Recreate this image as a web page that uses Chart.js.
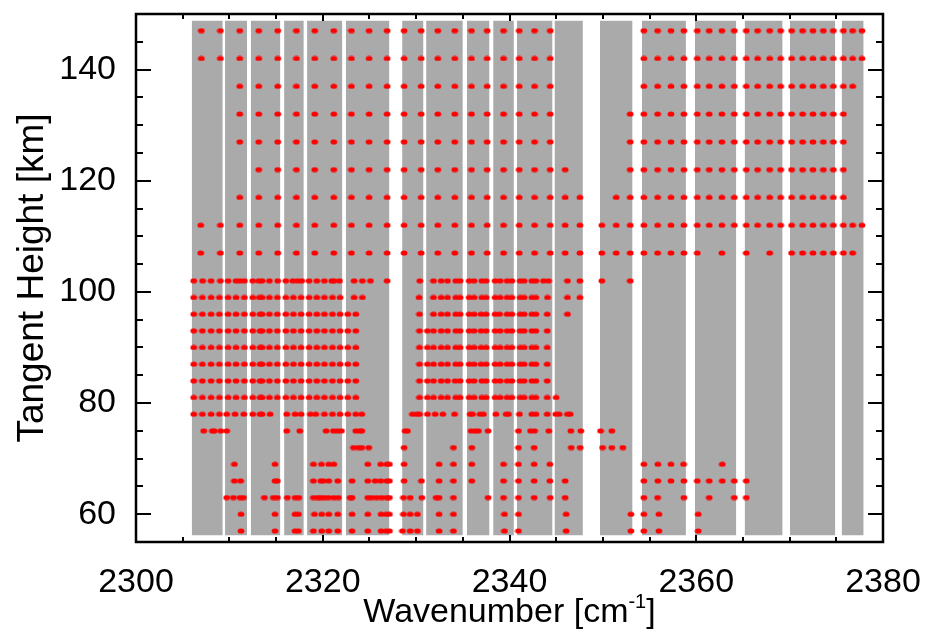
<!DOCTYPE html>
<html>
<head>
<meta charset="utf-8">
<script src="https://cdn.jsdelivr.net/npm/chart.js@4.4.0/dist/chart.umd.min.js"></script>
<style>
body { margin: 0; background: #fff; }
#wrap { width: 927px; height: 635px; }
</style>
</head>
<body>
<div id="wrap"><canvas id="chart" width="927" height="635"></canvas></div>
<script>
var FONT = '"Liberation Sans", Arial, Helvetica, sans-serif';

// axis ranges and tick labels
var xMin = 2300, xMax = 2380;
var yMin = 55, yMax = 150;
var xTicks = [2300, 2320, 2340, 2360, 2380];
var yTicks = [60, 80, 100, 120, 140];

// microwindows [cm-1] and their height range [km]
var bandStart = [2305.97, 2309.54, 2312.29, 2315.86, 2318.32, 2322.47, 2328.50, 2331.07, 2335.43,
                 2338.25, 2340.79, 2344.82, 2349.68, 2354.18, 2359.86, 2365.18, 2370.04, 2375.57];
var bandEnd   = [2309.29, 2311.89, 2315.46, 2317.97, 2322.10, 2327.14, 2330.79, 2335.00, 2337.86,
                 2340.47, 2344.61, 2347.86, 2353.18, 2358.89, 2364.29, 2369.25, 2374.89, 2377.93];
var bandBottom = 56.2, bandTop = 148.8;

// selected line positions [cm-1] for each tangent height
var wn147 = [2307.00, 2309.04, 2311.11, 2313.14, 2315.18, 2317.18, 2319.14, 2321.18, 2323.07, 2324.96, 2326.89, 2328.71,
             2330.54, 2332.32, 2334.14, 2335.93, 2337.61, 2339.36, 2341.04, 2342.68, 2344.36, 2354.39, 2355.86, 2357.29,
             2358.68, 2360.11, 2361.39, 2362.75, 2364.07, 2365.36, 2366.57, 2367.86, 2369.04, 2370.21, 2371.39, 2372.50,
             2373.61, 2374.68, 2375.75, 2376.75, 2377.75];
var wn142 = [2307.00, 2309.04, 2311.11, 2313.14, 2315.18, 2317.18, 2319.14, 2321.18, 2323.07, 2324.96, 2326.89, 2328.71,
             2330.54, 2332.32, 2334.14, 2335.93, 2337.61, 2339.36, 2341.04, 2342.68, 2344.36, 2354.39, 2355.86, 2357.29,
             2358.68, 2360.11, 2361.39, 2362.75, 2364.07, 2365.36, 2366.57, 2367.86, 2369.04, 2370.21, 2371.39, 2372.50,
             2373.61, 2374.68, 2375.75, 2376.75, 2377.75];
var wn137 = [2311.11, 2313.14, 2315.18, 2317.18, 2319.14, 2321.18, 2323.07, 2324.96, 2326.89, 2328.71,
             2330.54, 2332.32, 2334.14, 2335.93, 2337.61, 2339.36, 2341.04, 2342.68, 2344.36, 2354.39, 2355.86, 2357.29,
             2358.68, 2360.11, 2361.39, 2362.75, 2364.07, 2365.36, 2366.57, 2367.86, 2369.04, 2370.21, 2371.39, 2372.50,
             2373.61, 2374.68, 2375.75, 2376.75];
var wn132 = [2311.11, 2313.14, 2315.18, 2317.18, 2319.14, 2321.18, 2323.07, 2324.96, 2326.89, 2328.71,
             2330.54, 2332.32, 2334.14, 2335.93, 2337.61, 2339.36, 2341.04, 2342.68, 2344.36, 2352.93, 2354.39, 2355.86,
             2357.29, 2358.68, 2360.11, 2361.39, 2362.75, 2364.07, 2365.36, 2366.57, 2367.86, 2369.04, 2370.21, 2371.39,
             2372.50, 2373.61, 2374.68, 2375.75];
var wn127 = [2311.11, 2313.14, 2315.18, 2317.18, 2319.14, 2321.18, 2323.07, 2324.96, 2326.89, 2328.71,
             2330.54, 2332.32, 2334.14, 2335.93, 2337.61, 2339.36, 2341.04, 2342.68, 2344.36, 2352.93, 2354.39, 2355.86,
             2357.29, 2358.68, 2360.11, 2361.39, 2362.75, 2364.07, 2365.36, 2366.57, 2367.86, 2369.04, 2370.21, 2371.39,
             2372.50, 2373.61, 2374.68, 2375.75];
var wn122 = [2313.14, 2315.18, 2317.18, 2319.14, 2321.18, 2323.07, 2324.96, 2326.89, 2328.71,
             2330.54, 2332.32, 2334.14, 2335.93, 2337.61, 2339.36, 2341.04, 2342.68, 2344.36, 2345.96, 2352.93, 2354.39,
             2355.86, 2357.29, 2358.68, 2360.11, 2361.39, 2362.75, 2364.07, 2365.36, 2366.57, 2367.86, 2369.04, 2370.21,
             2371.39, 2372.50, 2373.61, 2374.68, 2375.75];
var wn117 = [2311.11, 2313.14, 2315.18, 2317.18, 2319.14, 2321.18, 2323.07, 2324.96, 2326.89, 2328.71,
             2330.54, 2332.32, 2334.14, 2335.93, 2337.61, 2339.36, 2341.04, 2342.68, 2344.36, 2345.96, 2347.54, 2351.43,
             2352.93, 2354.39, 2355.86, 2357.29, 2358.68, 2360.11, 2361.39, 2362.75, 2364.07, 2365.36, 2366.57, 2367.86,
             2369.04, 2370.21, 2371.39, 2372.50, 2373.61, 2374.68, 2375.75];
var wn112 = [2306.93, 2309.04, 2311.11, 2313.14, 2315.18, 2317.18, 2319.14, 2321.18, 2323.07, 2324.96, 2326.89, 2328.71,
             2330.54, 2332.32, 2334.14, 2335.93, 2337.61, 2339.36, 2341.04, 2342.68, 2344.36, 2345.96, 2347.54, 2349.89,
             2351.43, 2352.93, 2354.39, 2355.86, 2357.29, 2358.68, 2360.11, 2361.39, 2362.75, 2364.07, 2365.36, 2366.57,
             2367.86, 2369.04, 2370.21, 2371.39, 2372.50, 2373.61, 2374.68, 2375.75, 2376.75, 2377.75];
var wn107 = [2306.93, 2309.04, 2311.11, 2313.14, 2315.18, 2317.18, 2319.14, 2321.18, 2323.07, 2324.96, 2326.89, 2328.71,
             2330.54, 2332.32, 2334.14, 2335.93, 2337.61, 2339.36, 2341.04, 2342.68, 2344.36, 2345.96, 2347.54, 2349.89,
             2351.43, 2352.93, 2354.39, 2355.86, 2357.29, 2358.68, 2360.11, 2362.75, 2365.36, 2367.86, 2370.21, 2371.39,
             2372.50, 2373.61, 2374.68, 2375.75, 2376.75];
var wn102 = [2306.18, 2307.14, 2308.04, 2309.04, 2309.86, 2310.71, 2311.14, 2311.61, 2312.50, 2313.14, 2313.50, 2314.29,
             2315.18, 2316.04, 2316.79, 2317.29, 2317.75, 2318.54, 2319.36, 2320.18, 2320.96, 2321.21, 2321.79, 2323.36,
             2324.25, 2325.11, 2326.89, 2330.39, 2331.86, 2332.68, 2333.36, 2334.25, 2334.71, 2335.68, 2336.21, 2337.04,
             2337.50, 2338.46, 2339.00, 2339.75, 2340.25, 2341.14, 2341.57, 2342.39, 2342.82, 2343.64, 2344.18, 2346.21,
             2347.54, 2349.89, 2352.93];
var wn99 = [2306.18, 2307.11, 2308.04, 2308.93, 2309.86, 2310.71, 2311.61, 2312.50, 2313.21, 2313.50, 2314.29, 2315.14,
            2316.04, 2316.86, 2317.68, 2318.54, 2319.36, 2320.18, 2321.04, 2321.86, 2323.36, 2324.25, 2330.32, 2331.86,
            2332.68, 2333.36, 2334.25, 2334.71, 2335.68, 2336.21, 2337.04, 2337.50, 2338.46, 2339.00, 2339.75, 2340.25,
            2341.14, 2341.57, 2342.39, 2342.82, 2344.07, 2346.21, 2347.54];
var wn96 = [2306.18, 2307.11, 2308.04, 2308.93, 2309.86, 2310.71, 2311.61, 2312.50, 2313.29, 2313.50, 2314.29, 2315.14,
            2316.04, 2316.86, 2317.68, 2318.54, 2319.36, 2320.18, 2321.04, 2321.86, 2322.68, 2323.54, 2330.36, 2331.86,
            2332.68, 2333.36, 2334.25, 2334.71, 2335.68, 2336.21, 2336.96, 2337.50, 2338.46, 2338.93, 2339.75, 2340.25,
            2341.14, 2341.57, 2342.39, 2342.82, 2344.04, 2346.21];
var wn93 = [2306.18, 2307.11, 2308.04, 2308.93, 2309.86, 2310.71, 2311.61, 2312.50, 2313.29, 2313.50, 2314.29, 2315.14,
            2316.04, 2316.86, 2317.68, 2318.54, 2319.36, 2320.18, 2321.04, 2321.86, 2322.68, 2323.54, 2330.36, 2331.21,
            2331.86, 2332.68, 2333.36, 2334.25, 2334.71, 2335.68, 2336.21, 2336.96, 2337.50, 2338.46, 2339.00, 2339.75,
            2340.25, 2341.14, 2341.57, 2342.39, 2342.82, 2344.04];
var wn90 = [2306.18, 2307.11, 2308.04, 2308.93, 2309.86, 2310.71, 2311.61, 2312.50, 2313.29, 2313.50, 2314.29, 2315.14,
            2316.04, 2316.86, 2317.68, 2318.54, 2319.36, 2320.18, 2321.04, 2321.86, 2322.68, 2323.54, 2330.36, 2331.21,
            2331.86, 2332.68, 2333.36, 2334.25, 2334.71, 2335.68, 2336.21, 2336.96, 2337.50, 2338.46, 2339.00, 2339.75,
            2340.25, 2341.14, 2341.57, 2342.39, 2342.82, 2344.04];
var wn87 = [2306.18, 2307.11, 2308.04, 2308.93, 2309.86, 2310.71, 2311.61, 2312.50, 2313.29, 2313.50, 2314.29, 2315.14,
            2316.04, 2316.86, 2317.68, 2318.54, 2319.36, 2320.18, 2321.04, 2321.86, 2322.68, 2323.54, 2330.36, 2331.21,
            2331.86, 2332.68, 2333.36, 2334.25, 2334.71, 2335.68, 2336.21, 2336.96, 2337.50, 2338.46, 2339.00, 2339.75,
            2340.25, 2341.14, 2341.57, 2342.39, 2342.82, 2344.04];
var wn84 = [2306.18, 2307.11, 2308.04, 2308.93, 2309.86, 2310.71, 2311.61, 2312.50, 2313.29, 2313.50, 2314.29, 2315.14,
            2316.04, 2316.86, 2317.68, 2318.54, 2319.36, 2320.18, 2321.04, 2321.86, 2322.68, 2323.54, 2330.36, 2331.21,
            2331.86, 2332.68, 2333.36, 2334.18, 2334.71, 2335.68, 2336.21, 2337.04, 2337.50, 2338.46, 2339.00, 2339.75,
            2340.25, 2341.14, 2341.57, 2342.39, 2342.82, 2344.04];
var wn81 = [2306.18, 2307.11, 2308.04, 2308.93, 2309.86, 2310.71, 2311.61, 2312.50, 2313.29, 2313.50, 2314.29, 2315.14,
            2316.04, 2316.86, 2317.68, 2318.54, 2319.36, 2320.18, 2321.04, 2321.86, 2322.68, 2323.54, 2330.36, 2331.21,
            2331.86, 2332.68, 2333.36, 2334.25, 2334.71, 2335.68, 2336.21, 2337.04, 2337.50, 2338.46, 2339.00, 2339.75,
            2340.25, 2341.14, 2341.57, 2342.39, 2342.82, 2344.04, 2345.00];
var wn78 = [2306.18, 2307.11, 2308.04, 2308.93, 2309.71, 2310.61, 2311.54, 2312.50, 2313.29, 2313.50, 2314.36, 2316.14,
            2317.04, 2317.68, 2318.68, 2319.25, 2320.18, 2321.04, 2321.86, 2322.68, 2323.54, 2324.18, 2329.61, 2330.07,
            2330.36, 2331.21, 2332.04, 2332.86, 2334.11, 2335.79, 2336.04, 2336.86, 2337.21, 2338.54, 2339.64, 2339.89,
            2341.07, 2342.39, 2342.82, 2344.04, 2344.96, 2345.32, 2346.21, 2346.50];
var wn75 = [2307.25, 2308.18, 2308.39, 2309.07, 2309.71, 2316.14, 2317.54, 2320.36, 2321.14, 2321.57, 2322.00, 2323.54,
            2323.96, 2324.18, 2328.82, 2329.07, 2335.89, 2336.32, 2336.68, 2337.71, 2340.96, 2342.25, 2342.68, 2344.21,
            2346.57, 2347.64, 2349.75, 2350.96];
var wn72 = [2323.29, 2323.82, 2324.18, 2324.93, 2328.71, 2334.00, 2335.96, 2340.96, 2342.64, 2346.61, 2347.57, 2349.96,
            2350.96, 2352.14];
var wn69 = [2310.54, 2314.89, 2319.00, 2319.86, 2320.64, 2321.18, 2324.82, 2326.21, 2326.86, 2327.14, 2328.71, 2332.46,
            2334.00, 2335.96, 2339.36, 2340.96, 2342.64, 2344.32, 2354.39, 2355.89, 2357.29, 2358.64, 2362.79];
var wn66 = [2310.54, 2311.21, 2314.89, 2315.14, 2319.00, 2319.79, 2320.07, 2320.64, 2321.61, 2323.14, 2324.82, 2325.61,
            2326.21, 2326.86, 2327.14, 2328.71, 2330.57, 2332.46, 2334.00, 2335.96, 2339.36, 2340.96, 2342.64, 2344.32,
            2345.96, 2354.39, 2355.89, 2357.29, 2358.68, 2360.11, 2361.39, 2362.79, 2364.07, 2365.36];
var wn63 = [2309.71, 2310.43, 2311.14, 2311.50, 2313.75, 2314.71, 2315.14, 2316.21, 2317.04, 2317.43, 2319.00, 2319.46,
            2319.79, 2320.18, 2320.61, 2321.18, 2321.68, 2322.93, 2323.14, 2324.82, 2325.25, 2325.79, 2326.32, 2326.86,
            2327.14, 2328.64, 2329.36, 2330.61, 2332.14, 2332.46, 2334.00, 2337.71, 2339.36, 2340.96, 2342.64, 2344.36,
            2345.96, 2354.39, 2355.86, 2358.68, 2361.39, 2364.07, 2365.36];
var wn60 = [2311.25, 2314.89, 2317.04, 2317.39, 2319.11, 2319.89, 2320.64, 2321.61, 2323.14, 2324.82, 2326.25, 2326.79,
            2327.14, 2328.64, 2329.36, 2330.14, 2332.46, 2334.00, 2339.46, 2340.96, 2346.07, 2353.00, 2354.39, 2356.00,
            2360.21];
var wn57 = [2311.25, 2314.89, 2317.04, 2317.39, 2319.00, 2319.89, 2320.64, 2321.61, 2323.14, 2324.82, 2326.25, 2326.79,
            2327.14, 2328.54, 2329.36, 2330.14, 2332.46, 2334.00, 2339.46, 2340.96, 2346.07, 2353.00, 2354.39, 2356.00,
            2360.21];

var heights = [147, 142, 137, 132, 127, 122, 117, 112, 107, 102, 99, 96, 93, 90, 87, 84, 81, 78, 75, 72, 69, 66, 63, 60, 57];
var lines = [wn147, wn142, wn137, wn132, wn127, wn122, wn117, wn112, wn107, wn102, wn99, wn96, wn93, wn90, wn87, wn84,
             wn81, wn78, wn75, wn72, wn69, wn66, wn63, wn60, wn57];

var points = [];
for (var i = 0; i < heights.length; i++) {
  for (var j = 0; j < lines[i].length; j++) {
    points.push({x: lines[i][j], y: heights[i]});
  }
}

// slightly flattened red dot used as point marker
var dot = document.createElement('canvas');
dot.width = 8; dot.height = 6;
var dctx = dot.getContext('2d');
dctx.fillStyle = '#ff0000';
dctx.beginPath();
dctx.ellipse(4, 3, 3.4, 2.6, 0, 0, 2 * Math.PI);
dctx.fill();

var datasets = [{
  label: 'lines',
  data: points,
  pointStyle: dot,
  backgroundColor: '#ff0000',
  borderWidth: 0,
  pointRadius: 3,
  pointHoverRadius: 3,
  order: 0
}];
for (var k = 0; k < bandStart.length; k++) {
  datasets.push({
    type: 'line',
    label: 'mw' + k,
    data: [{x: bandStart[k], y: bandTop}, {x: bandEnd[k], y: bandTop}],
    fill: {value: bandBottom},
    backgroundColor: '#aaaaaa',
    borderColor: 'rgba(0,0,0,0)',
    borderWidth: 0,
    pointRadius: 0,
    tension: 0,
    order: 1
  });
}

// IDL style frame: box on all four sides with inward ticks, plus x title with superscript
var frame = {
  id: 'frame',
  afterDraw: function(chart) {
    var ctx = chart.ctx, a = chart.chartArea;
    var xs = chart.scales.x, ys = chart.scales.y;
    ctx.save();
    ctx.strokeStyle = '#000';
    ctx.lineWidth = 2;
    ctx.beginPath();
    for (var v = xMin + 5; v < xMax; v += 5) {
      var px = Math.round(xs.getPixelForValue(v));
      var len = (v % 20 == 0) ? 7 : 5;
      ctx.moveTo(px, a.bottom); ctx.lineTo(px, a.bottom - len);
      ctx.moveTo(px, a.top); ctx.lineTo(px, a.top + len);
    }
    for (var v = yMin + 5; v < yMax; v += 5) {
      var py = Math.round(ys.getPixelForValue(v));
      var len = (v % 20 == 0) ? 15 : 7;
      ctx.moveTo(a.left, py); ctx.lineTo(a.left + len, py);
      ctx.moveTo(a.right, py); ctx.lineTo(a.right - len, py);
    }
    ctx.stroke();
    ctx.lineWidth = 2.5;
    ctx.strokeRect(a.left, a.top, a.right - a.left, a.bottom - a.top);

    var t1 = 'Wavenumber [cm', t2 = '-1', t3 = ']';
    ctx.fillStyle = '#000';
    ctx.textAlign = 'left';
    ctx.textBaseline = 'alphabetic';
    ctx.font = '34px ' + FONT;
    var w1 = ctx.measureText(t1).width, w3 = ctx.measureText(t3).width;
    ctx.font = '20px ' + FONT;
    var w2 = ctx.measureText(t2).width;
    var x0 = (a.left + a.right) / 2 - (w1 + w2 + w3) / 2;
    ctx.font = '34px ' + FONT;
    ctx.fillText(t1, x0, 622);
    ctx.font = '20px ' + FONT;
    ctx.fillText(t2, x0 + w1, 608);
    ctx.font = '34px ' + FONT;
    ctx.fillText(t3, x0 + w1 + w2, 622);
    ctx.restore();
  }
};

new Chart(document.getElementById('chart'), {
  type: 'scatter',
  data: {datasets: datasets},
  plugins: [frame],
  options: {
    responsive: false,
    animation: false,
    devicePixelRatio: 1,
    layout: {padding: {left: 0, right: 44, top: 14, bottom: 0}},
    plugins: {legend: {display: false}, tooltip: {enabled: false}},
    scales: {
      x: {
        type: 'linear',
        min: xMin,
        max: xMax,
        grid: {display: false},
        border: {display: false},
        afterBuildTicks: function(s) { s.ticks = xTicks.map(function(v) { return {value: v}; }); },
        afterFit: function(s) { s.height = 93; s.paddingLeft = 0; s.paddingRight = 0; },
        ticks: {
          color: '#000',
          padding: 12,
          maxRotation: 0,
          font: {family: FONT, size: 34},
          callback: function(v) { return String(v); }
        }
      },
      y: {
        type: 'linear',
        min: yMin,
        max: yMax,
        grid: {display: false},
        border: {display: false},
        afterBuildTicks: function(s) { s.ticks = yTicks.map(function(v) { return {value: v}; }); },
        afterFit: function(s) { s.width = 136; s.paddingTop = 0; s.paddingBottom = 0; },
        ticks: {
          color: '#000',
          padding: 12,
          font: {family: FONT, size: 34},
          callback: function(v) { return String(v); }
        },
        title: {
          display: true,
          text: 'Tangent Height [km]',
          color: '#000',
          font: {family: FONT, size: 37},
          padding: {top: 11, bottom: 0}
        }
      }
    }
  }
});
</script>
</body>
</html>
